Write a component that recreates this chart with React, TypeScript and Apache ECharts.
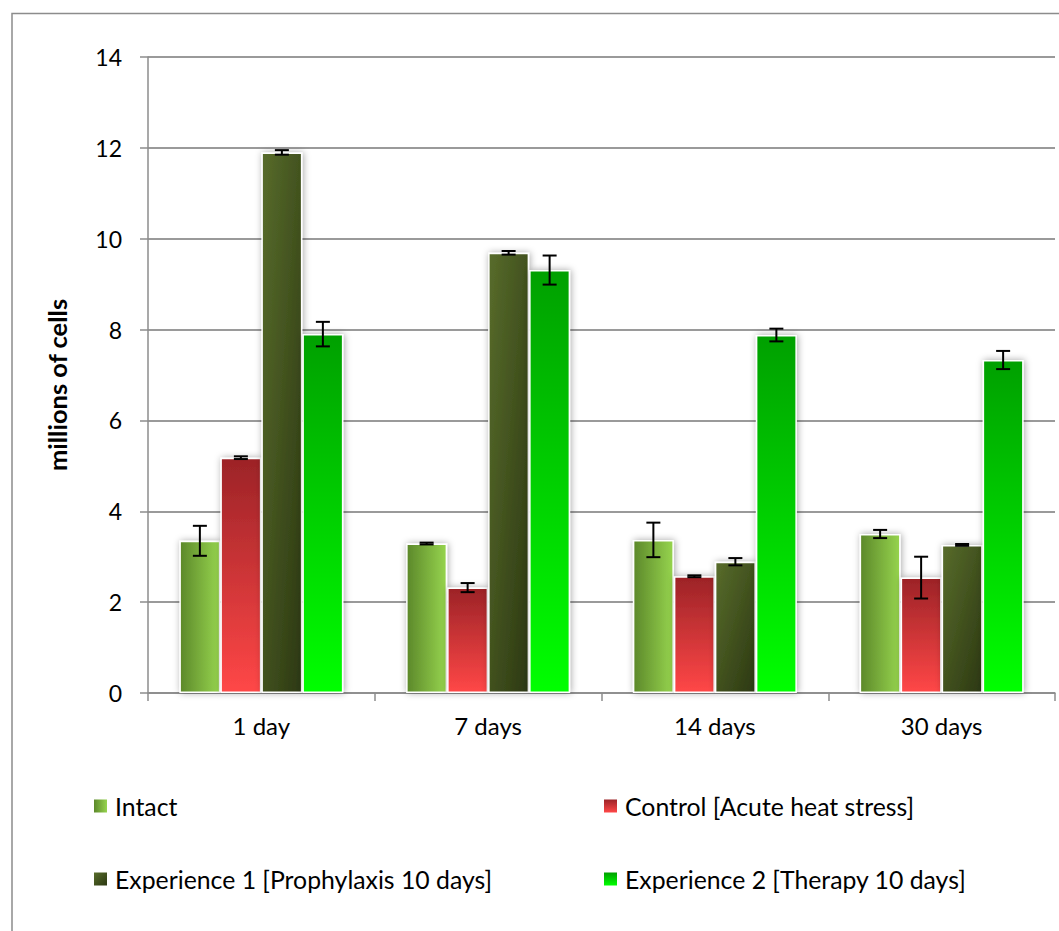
import React, { useEffect, useRef } from "react";
import * as echarts from "echarts";

const categories = ["1 day", "7 days", "14 days", "30 days"];
const seriesNames = [
  "Intact",
  "Control [Acute heat stress]",
  "Experience 1 [Prophylaxis 10 days]",
  "Experience 2 [Therapy 10 days]",
];
const intact = [3.35, 3.29, 3.37, 3.5];
const control = [5.18, 2.32, 2.57, 2.54];
const exp1 = [11.9, 9.69, 2.89, 3.26];
const exp2 = [7.9, 9.31, 7.88, 7.33];
const intactErr = [0.33, 0.02, 0.38, 0.09];
const controlErr = [0.03, 0.1, 0.02, 0.46];
const exp1Err = [0.05, 0.04, 0.08, 0.02];
const exp2Err = [0.27, 0.32, 0.14, 0.2];
const yMin = 0;
const yMax = 14;
const yStep = 2;
const yName = "millions of cells";

const FONT = "Lato";
const BAR_W = 41;

const colors = [
  new echarts.graphic.LinearGradient(0, 0, 1, 0, [
    { offset: 0, color: "#5c882a" },
    { offset: 1, color: "#96d44e" },
  ]),
  new echarts.graphic.LinearGradient(0, 0, 0, 1, [
    { offset: 0, color: "#9c2327" },
    { offset: 1, color: "#ff4747" },
  ]),
  new echarts.graphic.LinearGradient(0, 0, 1, 1, [
    { offset: 0, color: "#586c2b" },
    { offset: 1, color: "#2c3812" },
  ]),
  new echarts.graphic.LinearGradient(0, 0, 0, 1, [
    { offset: 0, color: "#00a000" },
    { offset: 1, color: "#00ff00" },
  ]),
];

const values = [intact, control, exp1, exp2];
const errors = [intactErr, controlErr, exp1Err, exp2Err];

export default function App() {
  const ref = useRef<HTMLDivElement>(null);
  useEffect(() => {
    if (!ref.current) return;
    const chart = echarts.init(ref.current, undefined, { renderer: "svg" });

    const barSeries = seriesNames.map((name, i) => ({
      name,
      type: "bar",
      data: values[i],
      barWidth: BAR_W,
      barGap: "0%",
      itemStyle: {
        color: colors[i],
        borderColor: "#ffffff",
        borderWidth: 1.5,
        shadowBlur: 7,
        shadowColor: "rgba(0,0,0,0.35)",
        shadowOffsetX: 1,
        shadowOffsetY: 0,
      },
      z: 2,
    }));

    const errSeries = seriesNames.map((name, i) => ({
      name: name + " error",
      type: "custom",
      z: 5,
      encode: { x: 0, y: 1 },
      data: values[i].map((v, ci) => [ci, v, errors[i][ci]]),
      renderItem: (params: any, api: any) => {
        const ci = api.value(0);
        const v = api.value(1);
        const e = api.value(2);
        const c = api.coord([ci, v]);
        const x = c[0] + (i - 1.5) * BAR_W;
        const top = api.coord([ci, v + e])[1];
        const bot = api.coord([ci, v - e])[1];
        const st = { stroke: "#000", lineWidth: 2 };
        return {
          type: "group",
          children: [
            { type: "line", shape: { x1: x, y1: top, x2: x, y2: bot }, style: st },
            { type: "line", shape: { x1: x - 7, y1: top, x2: x + 7, y2: top }, style: st },
            { type: "line", shape: { x1: x - 7, y1: bot, x2: x + 7, y2: bot }, style: st },
          ],
        };
      },
    }));

    const legendPos = [
      { left: 94, top: 793 },
      { left: 604, top: 793 },
      { left: 94, top: 866 },
      { left: 604, top: 866 },
    ];

    const legends = seriesNames.map((name, i) => ({
      data: [name],
      left: legendPos[i].left,
      top: legendPos[i].top,
      padding: 0,
      itemWidth: 13,
      itemHeight: 13,
      icon: "rect",
      selectedMode: false,
      itemStyle: { borderWidth: 0, shadowBlur: 0 },
      textStyle: {
        fontFamily: FONT,
        fontSize: 24.8,
        color: "#000",
        lineHeight: 26,
        padding: [0, 0, 0, 3],
      },
    }));

    chart.setOption({
      animation: false,
      backgroundColor: "#ffffff",
      graphic: [
        {
          type: "rect",
          shape: { x: 12, y: 13.5, width: 1200, height: 1000 },
          style: { fill: "none", stroke: "#8c8c8c", lineWidth: 1.5 },
          silent: true,
          z: -10,
        },
      ],
      legend: legends,
      grid: { left: 148, top: 57, right: 4, bottom: 238, containLabel: false },
      xAxis: {
        type: "category",
        data: categories,
        axisLine: { lineStyle: { color: "#8c8c8c", width: 1.5 } },
        axisTick: { show: true, length: 8, lineStyle: { color: "#8c8c8c", width: 1.5 } },
        axisLabel: { fontFamily: FONT, fontSize: 24, color: "#000", margin: 20 },
        splitLine: { show: false },
      },
      yAxis: {
        type: "value",
        min: yMin,
        max: yMax,
        interval: yStep,
        name: yName,
        nameLocation: "middle",
        nameGap: 78,
        nameTextStyle: {
          fontFamily: FONT,
          fontSize: 25.5,
          fontWeight: "bold",
          color: "#000",
          padding: [0, 20, 0, 0],
        },
        axisLine: { show: true, lineStyle: { color: "#8c8c8c", width: 1.5 } },
        axisTick: { show: true, length: 8, lineStyle: { color: "#8c8c8c", width: 1.5 } },
        axisLabel: { fontFamily: FONT, fontSize: 23, color: "#000", margin: 26 },
        splitLine: { show: true, lineStyle: { color: "#9a9a9a", width: 1.8 } },
      },
      series: [...barSeries, ...errSeries],
    });
    return () => chart.dispose();
  }, []);
  return (
    <div
      ref={ref}
      style={{ position: "fixed", left: 0, top: 0, width: 1059, height: 931, background: "#fff" }}
    />
  );
}
